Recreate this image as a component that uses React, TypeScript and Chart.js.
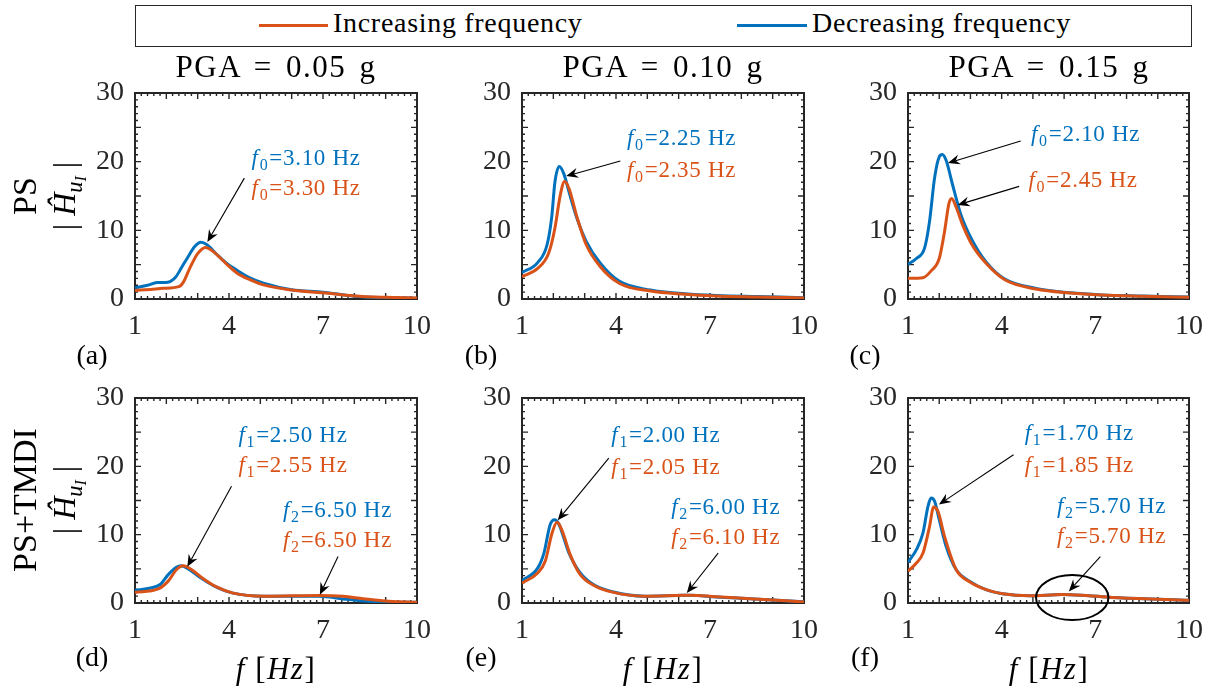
import React, { useEffect, useRef } from "react";
import { Chart, registerables } from "chart.js";

Chart.register(...registerables);

const W = 1214;
const H = 692;
const FONT = "'Liberation Serif', 'Times New Roman', serif";
const BLUE = "#0072BD";
const ORANGE = "#D95319";
const AXIS = "#262626";

// ---------- labels ----------
const seriesLabels = ["Increasing frequency", "Decreasing frequency"];
const pgaTitles = ["PGA = 0.05 g", "PGA = 0.10 g", "PGA = 0.15 g"];
const panelLetters = ["(a)", "(b)", "(c)", "(d)", "(e)", "(f)"];
const rowLabels = ["PS", "PS+TMDI"];
const xTickValues = [1, 4, 7, 10];
const yTickValues = [0, 10, 20, 30];

// ---------- data (f in Hz, |H| amplitude) ----------
// (a) PGA 0.05 g, PS
const aIncX = [1, 1.5, 1.9, 2.4, 2.55, 2.75, 3.0, 3.25, 3.5, 3.9, 4.25, 4.7, 5.1, 6.0, 7.0, 8.0, 9.0, 10];
const aIncY = [1.25, 1.4, 1.55, 1.8, 2.5, 4.5, 6.6, 7.5, 6.9, 5.2, 3.8, 2.75, 2.05, 1.3, 0.9, 0.45, 0.25, 0.15];
const aDecX = [1, 1.4, 1.7, 2.05, 2.3, 2.5, 2.7, 2.9, 3.1, 3.3, 3.6, 3.9, 4.25, 4.7, 5.1, 6.0, 7.0, 8.0, 9.0, 10];
const aDecY = [1.65, 2.0, 2.4, 2.45, 3.2, 4.7, 6.2, 7.6, 8.25, 7.9, 6.55, 5.3, 4.2, 3.0, 2.3, 1.35, 1.0, 0.4, 0.2, 0.1];
// (b) PGA 0.10 g, PS
const bIncX = [1, 1.5, 1.85, 2.05, 2.22, 2.36, 2.5, 2.75, 3.05, 3.5, 4.1, 5.1, 6.2, 7.2, 8.5, 10];
const bIncY = [3.25, 4.45, 6.65, 10.3, 15.1, 17.1, 16.1, 12.0, 7.9, 4.7, 2.3, 1.15, 0.7, 0.45, 0.3, 0.15];
const bDecX = [1, 1.5, 1.8, 1.95, 2.05, 2.19, 2.33, 2.5, 2.75, 3.05, 3.5, 4.1, 5.1, 6.2, 7.2, 8.5, 10];
const bDecY = [3.85, 5.3, 7.9, 12.0, 17.0, 19.3, 18.3, 15.6, 11.8, 8.4, 5.2, 2.6, 1.3, 0.75, 0.5, 0.35, 0.2];
// (c) PGA 0.15 g, PS
const cIncX = [1, 1.48, 1.74, 2.0, 2.17, 2.31, 2.4, 2.54, 2.75, 3.05, 3.5, 4.1, 5.1, 6.2, 7.2, 8.5, 10];
const cIncY = [3.0, 3.1, 4.1, 5.9, 9.8, 13.9, 14.65, 13.4, 10.8, 7.9, 5.2, 2.8, 1.45, 0.87, 0.58, 0.4, 0.25];
const cDecX = [1, 1.27, 1.53, 1.69, 1.85, 2.0, 2.1, 2.22, 2.43, 2.7, 3.05, 3.5, 4.1, 5.1, 6.2, 7.2, 8.5, 10];
const cDecY = [5.05, 5.9, 7.4, 11.3, 17.6, 20.7, 21.05, 20.2, 16.6, 12.2, 8.6, 5.4, 2.9, 1.55, 0.9, 0.6, 0.45, 0.3];
// (d) PGA 0.05 g, PS+TMDI
const dIncX = [1, 1.74, 2.06, 2.33, 2.54, 2.8, 3.18, 3.6, 4.13, 5.1, 6.05, 6.9, 7.64, 8.28, 9.1, 10];
const dIncY = [1.55, 2.05, 3.2, 4.9, 5.45, 4.9, 3.55, 2.35, 1.45, 1.0, 1.05, 1.1, 0.98, 0.63, 0.25, 0.1];
const dDecX = [1, 1.5, 1.8, 2.06, 2.33, 2.46, 2.7, 3.07, 3.5, 4.13, 5.1, 6.05, 6.9, 7.64, 8.28, 9.1, 10];
const dDecY = [1.85, 2.2, 2.7, 4.15, 5.25, 5.45, 5.0, 3.75, 2.55, 1.45, 1.0, 1.0, 1.0, 0.6, 0.3, 0.1, 0.1];
// (e) PGA 0.10 g, PS+TMDI
const eIncX = [1, 1.5, 1.74, 1.96, 2.12, 2.27, 2.54, 2.86, 3.28, 3.92, 4.9, 5.94, 6.37, 7.2, 8.28, 10];
const eIncY = [2.9, 4.4, 6.1, 10.25, 11.8, 10.7, 7.05, 4.15, 2.6, 1.55, 1.0, 1.1, 1.15, 0.9, 0.63, 0.15];
const eDecX = [1, 1.5, 1.7, 1.9, 2.04, 2.17, 2.5, 2.86, 3.28, 3.92, 4.9, 5.94, 6.37, 7.2, 8.28, 10];
const eDecY = [3.3, 5.1, 7.3, 11.5, 12.2, 11.6, 7.3, 4.4, 2.7, 1.6, 1.0, 1.1, 1.15, 0.88, 0.63, 0.2];
// (f) PGA 0.15 g, PS+TMDI
const fIncX = [1, 1.27, 1.48, 1.69, 1.82, 1.96, 2.17, 2.54, 2.97, 3.5, 4.03, 4.9, 5.94, 6.8, 7.75, 10];
const fIncY = [4.65, 5.85, 7.3, 11.2, 14.05, 13.4, 9.75, 4.9, 3.1, 1.95, 1.35, 1.05, 1.25, 1.05, 0.78, 0.4];
const fDecX = [1, 1.27, 1.48, 1.64, 1.74, 1.85, 2.0, 2.22, 2.54, 2.97, 3.5, 4.03, 4.9, 5.94, 6.8, 7.75, 10];
const fDecY = [5.95, 7.8, 10.25, 14.15, 15.35, 14.9, 12.2, 8.3, 4.9, 3.2, 1.95, 1.35, 1.05, 1.25, 1.05, 0.78, 0.4];

// ---------- annotations (data coordinates) ----------
type TextAnn = { x: number; y: number; sub: string; rest: string; color: string };
type Ann = { texts: TextAnn[]; arrows: number[][]; ellipse?: number[] };

const annotations: Ann[] = [
  {
    texts: [
      { x: 4.72, y: 19.55, sub: "0", rest: "=3.10 Hz", color: BLUE },
      { x: 4.72, y: 15.1, sub: "0", rest: "=3.30 Hz", color: ORANGE },
    ],
    arrows: [[4.49, 17.6, 3.31, 8.3]],
  },
  {
    texts: [
      { x: 4.35, y: 22.4, sub: "0", rest: "=2.25 Hz", color: BLUE },
      { x: 4.35, y: 17.7, sub: "0", rest: "=2.35 Hz", color: ORANGE },
    ],
    arrows: [[4.14, 20.1, 2.41, 17.9]],
  },
  {
    texts: [
      { x: 4.94, y: 23.0, sub: "0", rest: "=2.10 Hz", color: BLUE },
      { x: 4.86, y: 16.3, sub: "0", rest: "=2.45 Hz", color: ORANGE },
    ],
    arrows: [
      [4.61, 23.0, 2.28, 19.8],
      [4.56, 16.4, 2.59, 13.7],
    ],
  },
  {
    texts: [
      { x: 4.3, y: 23.5, sub: "1", rest: "=2.50 Hz", color: BLUE },
      { x: 4.3, y: 19.1, sub: "1", rest: "=2.55 Hz", color: ORANGE },
      { x: 5.72, y: 12.6, sub: "2", rest: "=6.50 Hz", color: BLUE },
      { x: 5.72, y: 8.2, sub: "2", rest: "=6.50 Hz", color: ORANGE },
    ],
    arrows: [
      [4.08, 17.1, 2.67, 5.3],
      [7.48, 6.8, 6.9, 1.2],
    ],
  },
  {
    texts: [
      { x: 3.85, y: 23.6, sub: "1", rest: "=2.00 Hz", color: BLUE },
      { x: 3.85, y: 18.9, sub: "1", rest: "=2.05 Hz", color: ORANGE },
      { x: 5.76, y: 13.0, sub: "2", rest: "=6.00 Hz", color: BLUE },
      { x: 5.76, y: 8.6, sub: "2", rest: "=6.10 Hz", color: ORANGE },
    ],
    arrows: [
      [3.77, 21.2, 2.14, 12.1],
      [7.26, 7.3, 6.26, 1.46],
    ],
  },
  {
    texts: [
      { x: 4.74, y: 23.9, sub: "1", rest: "=1.70 Hz", color: BLUE },
      { x: 4.74, y: 19.2, sub: "1", rest: "=1.85 Hz", color: ORANGE },
      { x: 5.77, y: 13.2, sub: "2", rest: "=5.70 Hz", color: BLUE },
      { x: 5.77, y: 8.8, sub: "2", rest: "=5.70 Hz", color: ORANGE },
    ],
    arrows: [
      [4.38, 21.7, 1.99, 14.4],
      [7.16, 6.8, 6.15, 1.7],
    ],
    ellipse: [6.26, 0.8, 1.16, 3.3],
  },
];

// ---------- layout ----------
const boxes = [
  { left: 135, right: 417, top: 93, bottom: 299 },
  { left: 522, right: 804, top: 93, bottom: 299 },
  { left: 908, right: 1190, top: 93, bottom: 299 },
  { left: 135, right: 417, top: 398, bottom: 603 },
  { left: 522, right: 804, top: 398, bottom: 603 },
  { left: 908, right: 1190, top: 398, bottom: 603 },
];

const seriesSets = [
  [aIncX, aIncY, aDecX, aDecY],
  [bIncX, bIncY, bDecX, bDecY],
  [cIncX, cIncY, cDecX, cDecY],
  [dIncX, dIncY, dDecX, dDecY],
  [eIncX, eIncY, eDecX, eDecY],
  [fIncX, fIncY, fDecX, fDecY],
];

const framePlugin = {
  id: "frame",
  beforeDatasetsDraw(chart: any) {
    const { ctx, chartArea: a, scales } = chart;
    const xs = scales.x;
    const ys = scales.y;
    ctx.save();
    ctx.strokeStyle = AXIS;
    ctx.lineWidth = 1.4;
    ctx.beginPath();
    for (let i = 0; i <= 45; i++) {
      const px = xs.getPixelForValue(1 + i * 0.2);
      const len = i % 5 === 0 ? 6 : 3;
      ctx.moveTo(px, a.bottom);
      ctx.lineTo(px, a.bottom - len);
      ctx.moveTo(px, a.top);
      ctx.lineTo(px, a.top + len);
    }
    for (let i = 0; i <= 30; i++) {
      const py = ys.getPixelForValue(i);
      const len = i % 5 === 0 ? 6 : 3;
      ctx.moveTo(a.left, py);
      ctx.lineTo(a.left + len, py);
      ctx.moveTo(a.right, py);
      ctx.lineTo(a.right - len, py);
    }
    ctx.stroke();
    ctx.lineWidth = 2;
    ctx.strokeRect(a.left, a.top, a.right - a.left, a.bottom - a.top);
    ctx.restore();
  },
};

function drawArrow(ctx: CanvasRenderingContext2D, x1: number, y1: number, x2: number, y2: number) {
  const ang = Math.atan2(y2 - y1, x2 - x1);
  const c = Math.cos(ang);
  const s = Math.sin(ang);
  const L = 12;
  const Wd = 5;
  const N = 8;
  ctx.strokeStyle = "#000";
  ctx.fillStyle = "#000";
  ctx.lineWidth = 1.1;
  ctx.beginPath();
  ctx.moveTo(x1, y1);
  ctx.lineTo(x2 - c * N, y2 - s * N);
  ctx.stroke();
  const bx = x2 - c * L;
  const by = y2 - s * L;
  const nx = -s;
  const ny = c;
  ctx.beginPath();
  ctx.moveTo(x2, y2);
  ctx.lineTo(bx + nx * Wd, by + ny * Wd);
  ctx.lineTo(x2 - c * N, y2 - s * N);
  ctx.lineTo(bx - nx * Wd, by - ny * Wd);
  ctx.closePath();
  ctx.fill();
}

function makeAnnPlugin(ann: Ann) {
  return {
    id: "ann",
    afterDraw(chart: any) {
      const { ctx, scales } = chart;
      const xs = scales.x;
      const ys = scales.y;
      ctx.save();
      (ctx as any).letterSpacing = "0.7px";
      for (const t of ann.texts) {
        const px = xs.getPixelForValue(t.x);
        const py = ys.getPixelForValue(t.y);
        ctx.fillStyle = t.color;
        ctx.textAlign = "left";
        ctx.textBaseline = "alphabetic";
        ctx.font = `italic 23px ${FONT}`;
        ctx.fillText("f", px, py);
        let cx = px + ctx.measureText("f").width + 1;
        ctx.font = `16px ${FONT}`;
        ctx.fillText(t.sub, cx, py + 5);
        cx += ctx.measureText(t.sub).width + 1;
        ctx.font = `23px ${FONT}`;
        ctx.fillText(t.rest, cx, py);
      }
      (ctx as any).letterSpacing = "0px";
      for (const ar of ann.arrows) {
        drawArrow(
          ctx,
          xs.getPixelForValue(ar[0]),
          ys.getPixelForValue(ar[1]),
          xs.getPixelForValue(ar[2]),
          ys.getPixelForValue(ar[3])
        );
      }
      if (ann.ellipse) {
        const [ex, ey, erx, ery] = ann.ellipse;
        const cx = xs.getPixelForValue(ex);
        const cy = ys.getPixelForValue(ey);
        const rx = xs.getPixelForValue(ex + erx) - cx;
        const ry = cy - ys.getPixelForValue(ey + ery);
        ctx.strokeStyle = "#000";
        ctx.lineWidth = 2;
        ctx.beginPath();
        ctx.ellipse(cx, cy, rx, ry, 0, 0, Math.PI * 2);
        ctx.stroke();
      }
      ctx.restore();
    },
  };
}

function Panel({ idx }: { idx: number }) {
  const ref = useRef<HTMLCanvasElement>(null);
  useEffect(() => {
    const canvas = ref.current!;
    const b = boxes[idx];
    const [ix, iy, dx, dy] = seriesSets[idx];
    const toPts = (xs: number[], ys: number[]) => xs.map((x, i) => ({ x, y: ys[i] }));
    const tickFont = { family: FONT, size: 28 };
    const chart = new Chart(canvas, {
      type: "line",
      data: {
        datasets: [
          {
            label: seriesLabels[0],
            data: toPts(ix, iy),
            borderColor: ORANGE,
            backgroundColor: ORANGE,
            borderWidth: 3,
            pointRadius: 0,
            cubicInterpolationMode: "monotone",
            order: 0,
          },
          {
            label: seriesLabels[1],
            data: toPts(dx, dy),
            borderColor: BLUE,
            backgroundColor: BLUE,
            borderWidth: 3,
            pointRadius: 0,
            cubicInterpolationMode: "monotone",
            order: 1,
          },
        ],
      },
      options: {
        responsive: false,
        animation: false,
        events: [],
        layout: {
          padding: { left: b.left - 60, right: W - b.right, top: b.top, bottom: H - b.bottom - 50 },
        },
        plugins: {
          legend: { display: false },
          tooltip: { enabled: false },
          title: { display: false },
        },
        scales: {
          x: {
            type: "linear",
            min: 1,
            max: 10,
            grid: { display: false, drawTicks: false },
            border: { display: false },
            afterBuildTicks: (s: any) => {
              s.ticks = xTickValues.map((v) => ({ value: v }));
            },
            afterFit: (s: any) => {
              s.height = 50;
            },
            ticks: { font: tickFont, color: AXIS, padding: 11, maxRotation: 0, autoSkip: false },
          },
          y: {
            type: "linear",
            min: 0,
            max: 30,
            grid: { display: false, drawTicks: false },
            border: { display: false },
            afterBuildTicks: (s: any) => {
              s.ticks = yTickValues.map((v) => ({ value: v }));
            },
            afterFit: (s: any) => {
              s.width = 60;
            },
            ticks: { font: tickFont, color: AXIS, padding: 11 },
          },
        },
      } as any,
      plugins: [framePlugin, makeAnnPlugin(annotations[idx])],
    });
    return () => chart.destroy();
  }, [idx]);
  return (
    <canvas
      ref={ref}
      width={W}
      height={H}
      style={{ position: "absolute", left: 0, top: 0, width: W, height: H }}
    />
  );
}

function Txt({
  x,
  y,
  size,
  children,
  align = "center",
  rotate = false,
  style = {},
}: {
  x: number;
  y: number;
  size: number;
  children: React.ReactNode;
  align?: "center" | "left";
  rotate?: boolean;
  style?: React.CSSProperties;
}) {
  const tx = align === "center" ? "-50%" : "0";
  return (
    <div
      style={{
        position: "absolute",
        left: x,
        top: y,
        transform: `translate(${tx}, -50%)${rotate ? " rotate(-90deg)" : ""}`,
        fontFamily: FONT,
        fontSize: size,
        lineHeight: 1,
        whiteSpace: "nowrap",
        color: "#000",
        ...style,
      }}
    >
      {children}
    </div>
  );
}

function HLabel() {
  return (
    <>
      <span>|&nbsp;</span>
      <i>Ĥ</i>
      <span style={{ fontSize: "0.7em", position: "relative", top: "0.3em" }}>
        <i>u</i>
        <span style={{ fontSize: "0.72em", position: "relative", top: "0.25em" }}>
          <i>I</i>
        </span>
      </span>
      <span>&nbsp;|</span>
    </>
  );
}

export default function App() {
  const colCenters = [276, 663, 1049];
  const rowCenters = [196, 500];
  return (
    <div
      style={{
        position: "absolute",
        left: 0,
        top: 0,
        width: W,
        height: H,
        background: "#fff",
        overflow: "hidden",
      }}
    >
      {boxes.map((_, i) => (
        <Panel key={i} idx={i} />
      ))}

      {/* legend */}
      <div
        style={{
          position: "absolute",
          left: 135,
          top: 5,
          width: 1057,
          height: 42,
          boxSizing: "border-box",
          border: `1.5px solid ${AXIS}`,
          background: "#fff",
        }}
      />
      <div style={{ position: "absolute", left: 259, top: 23.5, width: 69, height: 3, background: ORANGE }} />
      <Txt x={333} y={23} size={28} align="left" style={{ letterSpacing: "0.7px" }}>
        {seriesLabels[0]}
      </Txt>
      <div style={{ position: "absolute", left: 737, top: 23.5, width: 70, height: 3, background: BLUE }} />
      <Txt x={812} y={23} size={28} align="left" style={{ letterSpacing: "0.7px" }}>
        {seriesLabels[1]}
      </Txt>

      {/* column titles */}
      {pgaTitles.map((t, i) => (
        <Txt key={t} x={colCenters[i]} y={66} size={31} style={{ letterSpacing: "1.5px", wordSpacing: "4px" }}>
          {t}
        </Txt>
      ))}

      {/* row labels */}
      {rowLabels.map((t, r) => (
        <React.Fragment key={t}>
          <Txt x={25} y={rowCenters[r]} size={34} rotate>
            {t}
          </Txt>
          <Txt x={64} y={rowCenters[r]} size={32} rotate>
            <HLabel />
          </Txt>
        </React.Fragment>
      ))}

      {/* panel letters */}
      {panelLetters.map((t, i) => (
        <Txt key={t} x={[92, 481, 865][i % 3]} y={i < 3 ? 355 : 657} size={28}>
          {t}
        </Txt>
      ))}

      {/* x axis titles */}
      {colCenters.map((cx, i) => (
        <Txt key={i} x={cx} y={668} size={31} style={{ letterSpacing: "1.5px" }}>
          <i>f</i>&nbsp;[<i>Hz</i>]
        </Txt>
      ))}
    </div>
  );
}
